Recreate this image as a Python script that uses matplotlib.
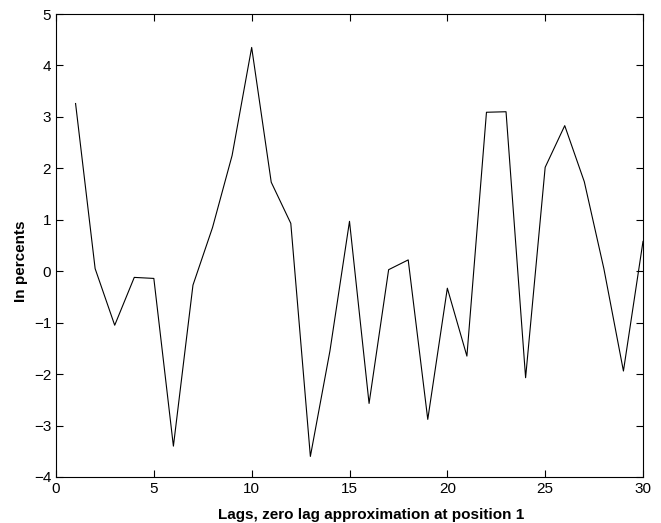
import matplotlib
matplotlib.use("Agg")
import matplotlib.pyplot as plt

# lag positions and values (percent)
lags = list(range(1, 31))
vals = [3.26, 0.05, -1.05, -0.12, -0.14, -3.40, -0.27, 0.85, 2.25, 4.35,
        1.73, 0.93, -3.60, -1.55, 0.97, -2.57, 0.03, 0.22, -2.88, -0.33,
        -1.65, 3.09, 3.10, -2.07, 2.02, 2.83, 1.74, 0.05, -1.94, 0.58]

plt.rcParams['font.family'] = ['Liberation Sans', 'DejaVu Sans']

fig = plt.figure(figsize=(6.61, 5.23), dpi=100)
ax = fig.add_axes([56/661, 1 - 477/523, (643-56)/661, (477-14)/523])
ax.plot(lags, vals, color='black', linewidth=0.8)
ax.set_xlim(0, 30)
ax.set_ylim(-4, 5)
ax.set_xticks(range(0, 31, 5))
ax.set_yticks(range(-4, 6))
ax.tick_params(direction='in', top=True, right=True, labelsize=11, length=5, width=0.8)
for s in ax.spines.values():
    s.set_linewidth(0.8)
ax.set_xlabel('Lags, zero lag approximation at position 1', fontsize=11, fontweight='bold', va='center')
ax.set_ylabel('In percents', fontsize=11, fontweight='bold', va='center')
# matlab puts the labels a bit off-centre
ax.xaxis.set_label_coords(0.536, -0.082)
ax.yaxis.set_label_coords(-0.0596, 0.4665)
fig.savefig('out.png', dpi=100)
